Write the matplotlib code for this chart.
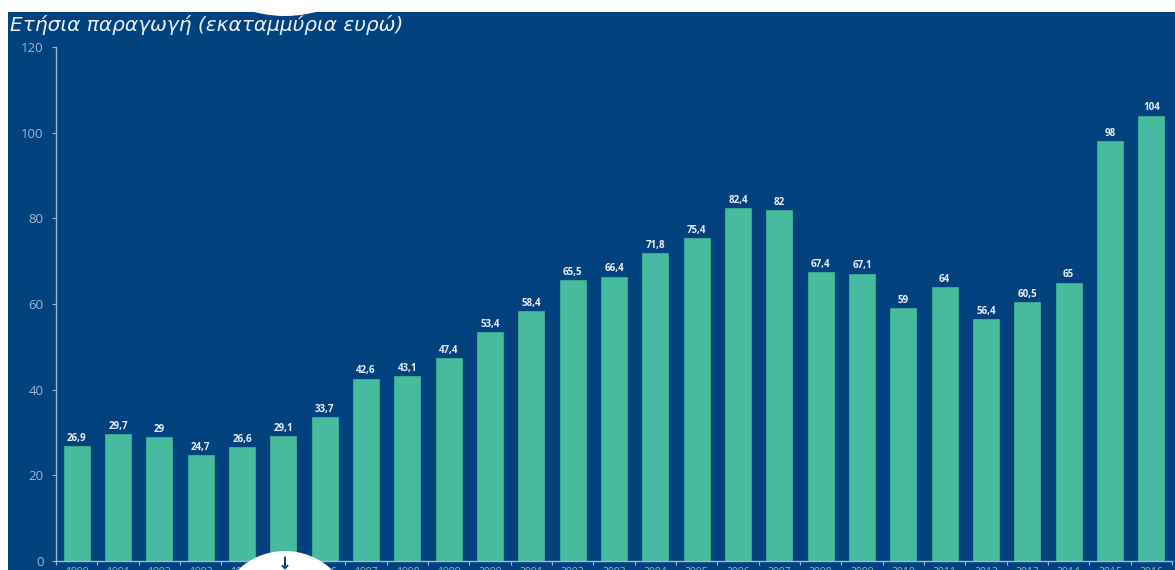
import matplotlib.pyplot as plt
from matplotlib.patches import Rectangle, Circle
import numpy as np

years = [str(y) for y in range(1990, 2017)]
values = [26.9, 29.7, 29, 24.7, 26.6, 29.1, 33.7, 42.6, 43.1, 47.4, 53.4, 58.4,
          65.5, 66.4, 71.8, 75.4, 82.4, 82, 67.4, 67.1, 59, 64, 56.4, 60.5,
          65, 98, 104]
yticks = [0, 20, 40, 60, 80, 100, 120]
title = 'Ετήσια παραγωγή (εκαταμμύρια ευρώ)'

BG = '#02437f'
BAR = '#46bb9e'
TICK = '#a3b6cc'
W, H = 1175, 570

fig = plt.figure(figsize=(W / 100, H / 100), dpi=100, facecolor='white')
# blue panel behind everything
fig.patches.append(Rectangle((8 / W, 0), 1 - 8 / W, 1 - 12 / H, transform=fig.transFigure,
                             facecolor=BG, edgecolor='none', zorder=-10))

ax = fig.add_axes([56 / W, 9 / H, (1172 - 56) / W, (523 - 9) / H])
ax.set_facecolor('none')
x = np.arange(len(years))
ax.bar(x, values, width=0.63, color=BAR, edgecolor='#3fae93', linewidth=0.6, zorder=2)
for xi, v in zip(x, values):
    lab = ('%g' % v).replace('.', ',')
    ax.text(xi, v + 0.5, lab, ha='center', va='bottom', fontsize=7, fontweight='bold',
            color='#e8eef4', family='Open Sans')

ax.set_xlim(-0.5, len(years) - 0.5)
ax.set_ylim(0, 120)
ax.set_yticks(yticks)
ax.set_yticklabels([str(t) for t in yticks], color=TICK, fontsize=9.5, family='Open Sans')
ax.set_xticks(x)
ax.set_xticklabels(years, color=TICK, fontsize=7.5, family='Open Sans')
ax.set_xticks(np.arange(-0.5, len(years)), minor=True)
ax.tick_params(axis='x', which='major', length=0, pad=4)
ax.tick_params(axis='x', which='minor', length=3, color=TICK, width=0.8)
ax.tick_params(axis='y', length=3, color=TICK, width=0.8, pad=6)
for s in ['top', 'right']:
    ax.spines[s].set_visible(False)
for s in ['left', 'bottom']:
    ax.spines[s].set_color(TICK)
    ax.spines[s].set_linewidth(1)

fig.text(10 / W, 1 - 25 / H, title, fontsize=14.5, style='italic', color='#e8eef6',
         va='center', ha='left', family='DejaVu Sans', zorder=7)

# white round overlays (page widgets cut into the screenshot)
top_c = Circle((285, H + 104), 120, transform=None, facecolor='white', edgecolor='none', zorder=5)
bot_c = Circle((285, -49), 68, transform=None, facecolor='white', edgecolor='none', zorder=5)
fig.patches.extend([top_c, bot_c])
fig.text(285 / W, 1 - 564 / H, '↓', fontsize=12, fontweight='bold', color=BG,
         ha='center', va='center', zorder=6)

fig.savefig('out.png', dpi=100, facecolor='white')
